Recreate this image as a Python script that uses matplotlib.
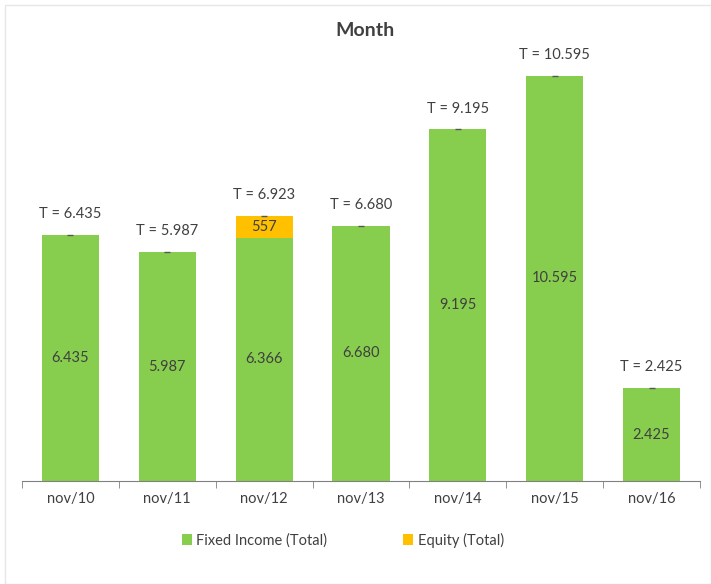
import matplotlib.pyplot as plt
import numpy as np
from matplotlib.patches import Rectangle

months = ["nov/10", "nov/11", "nov/12", "nov/13", "nov/14", "nov/15", "nov/16"]
fixed_income = [6435, 5987, 6366, 6680, 9195, 10595, 2425]
equity = [0, 0, 557, 0, 0, 0, 0]

green = "#88CE4E"
orange = "#FFC000"
txt = "#404040"

plt.rcParams['font.family'] = ['Lato', 'DejaVu Sans']


def fmt(v):
    # european thousands separator
    return "{:,}".format(v).replace(",", ".")


fig = plt.figure(figsize=(7.11, 5.84), dpi=100)
fig.patches.append(Rectangle((5/711, 0), 1 - 5/711, 1 - 5/584, transform=fig.transFigure,
                             fill=False, edgecolor="#E6E6E6", lw=1))
ax = fig.add_axes([22/711, 103/584, 678/711, 431/584])

x = np.arange(len(months))
totals = [a + b for a, b in zip(fixed_income, equity)]
w = 0.59
ax.bar(x, fixed_income, w, color=green, label="Fixed Income (Total)")
ax.bar(x, equity, w, bottom=fixed_income, color=orange, label="Equity (Total)")
ax.plot(x, totals, ls="none", marker="_", color="#555555", ms=4, mew=1)

for i in range(len(months)):
    ax.text(x[i], fixed_income[i] / 2, fmt(fixed_income[i]), ha="center", va="center",
            fontsize=10.5, color=txt)
    if equity[i] > 0:
        ax.text(x[i], fixed_income[i] + equity[i] / 2, fmt(equity[i]), ha="center",
                va="center", fontsize=10.5, color=txt)
    ax.annotate("T = " + fmt(totals[i]), (x[i], totals[i]), xytext=(0, 10),
                textcoords="offset points", ha="center", va="bottom", fontsize=10.5, color=txt)

ax.set_xlim(-0.5, len(months) - 0.5)
ax.set_ylim(0, 11274)
ax.set_yticks([])
ax.set_xticks(x)
ax.set_xticklabels(months, fontsize=10.5, color=txt)
ax.set_xticks(np.arange(-0.5, len(months)), minor=True)
ax.tick_params(axis="x", which="major", length=0, pad=8)
ax.tick_params(axis="x", which="minor", length=5, color="#808080")
for s in ["top", "right", "left"]:
    ax.spines[s].set_visible(False)
ax.spines["bottom"].set_color("#808080")

fig.text(0.513, 1 - 30/584, "Month", ha="center", va="center", fontsize=14,
         fontweight="bold", color=txt)
fig.legend(loc="center", bbox_to_anchor=(0.482, 1 - 540/584), ncol=2, frameon=False,
           fontsize=10.5, handlelength=0.7, handleheight=0.7, columnspacing=5.2,
           handletextpad=0.3, labelcolor=txt)

fig.savefig("out.png")
